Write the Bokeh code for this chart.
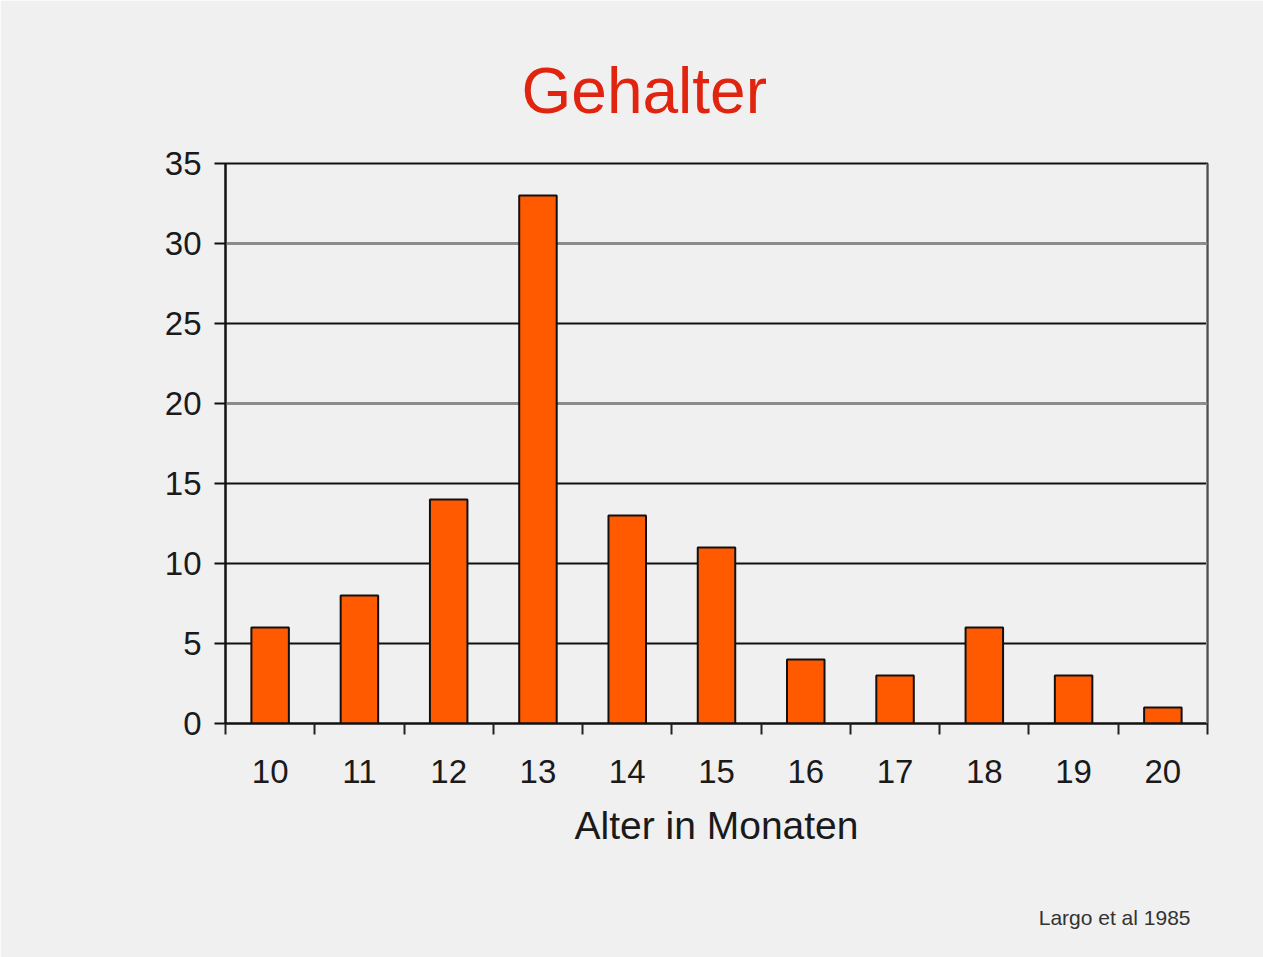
from bokeh.plotting import figure
from bokeh.models import Range1d, FixedTicker, Grid, Span, Title
from bokeh.embed import file_html
from bokeh.resources import INLINE

ages = [10, 11, 12, 13, 14, 15, 16, 17, 18, 19, 20]
counts = [6, 8, 14, 33, 13, 11, 4, 3, 6, 3, 1]
y_ticks = [0, 5, 10, 15, 20, 25, 30, 35]
grid_dark = [5, 10, 15, 25]
grid_light = [20, 30]

FONT = "Liberation Sans"
BG = "#f0f0f0"

p = figure(width=1263, height=957, output_backend="svg", toolbar_location=None,
           x_range=Range1d(9.5, 20.5), y_range=Range1d(0, 35),
           min_border_left=225, min_border_right=56, min_border_top=163,
           min_border_bottom=234)
p.background_fill_color = BG
p.border_fill_color = BG
p.outline_line_color = "#111111"
p.outline_line_width = 2

# title
p.title.text = "Gehalter"
p.title.text_font = FONT
p.title.text_font_size = "64px"
p.title.text_font_style = "normal"
p.title.text_color = "#e0240f"
p.title.align = "left"
p.title.offset = 296
p.title.standoff = 73

# grid
p.xgrid.visible = False
p.ygrid.ticker = FixedTicker(ticks=grid_dark)
p.ygrid.grid_line_color = "#111111"
p.ygrid.grid_line_width = 2
g2 = Grid(dimension=1, ticker=FixedTicker(ticks=grid_light),
          grid_line_color="#8c8c8c", grid_line_width=3)
p.add_layout(g2)

# x axis
xa = p.xaxis[0]
xa.ticker = FixedTicker(ticks=ages, minor_ticks=[a - 0.5 for a in ages] + [ages[-1] + 0.5])
xa.major_tick_out = 0
xa.major_tick_in = 0
xa.minor_tick_out = 11
xa.minor_tick_in = 0
xa.minor_tick_line_color = "#222222"
xa.minor_tick_line_width = 2
xa.axis_line_color = "#111111"
xa.axis_line_width = 2
xa.major_label_text_font = FONT
xa.major_label_text_font_size = "33px"
xa.major_label_text_color = "#1a1a1a"
xa.major_label_standoff = 25
xa.axis_label = "Alter in Monaten"
xa.axis_label_text_font = FONT
xa.axis_label_text_font_size = "39px"
xa.axis_label_text_font_style = "normal"
xa.axis_label_text_color = "#1a1a1a"
xa.axis_label_standoff = 18

# y axis
ya = p.yaxis[0]
ya.ticker = FixedTicker(ticks=y_ticks)
ya.major_tick_out = 11
ya.major_tick_in = 0
ya.minor_tick_out = 0
ya.minor_tick_in = 0
ya.major_tick_line_color = "#111111"
ya.major_tick_line_width = 2
ya.axis_line_color = "#111111"
ya.axis_line_width = 2
ya.major_label_text_font = FONT
ya.major_label_text_font_size = "33px"
ya.major_label_text_color = "#1a1a1a"
ya.major_label_standoff = 13

# bars
p.vbar(x=ages, top=counts, width=0.42, fill_color="#ff5a00",
       line_color="#111111", line_width=2)

# right border (gray)
p.add_layout(Span(location=20.5, dimension="height", line_color="#8c8c8c", line_width=3))

# spacer below the axis, then the source note
spacer = Title(text=" ", standoff=27, text_font=FONT, text_font_size="21px",
               text_color=BG)
p.add_layout(spacer, "below")
src = Title(text="Largo et al 1985", align="right", offset=17, standoff=4,
            text_font=FONT, text_font_size="21px", text_font_style="normal",
            text_color="#333333")
p.add_layout(src, "below")

open("out.html", "w").write(file_html(p, INLINE))
